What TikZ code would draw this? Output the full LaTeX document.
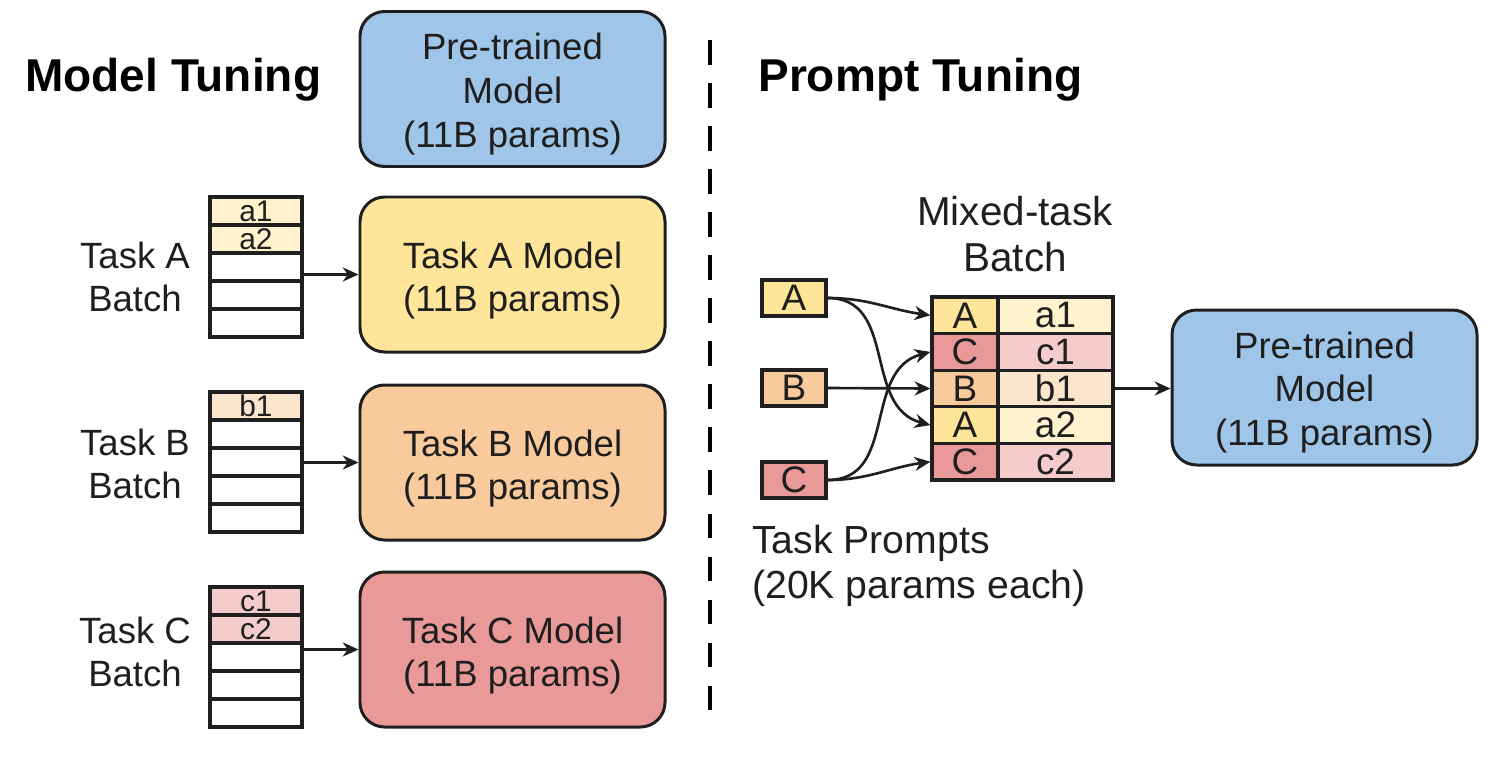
\documentclass[tikz,border=0pt]{standalone}
\usepackage{fontspec}
\setmainfont{Liberation Sans}
\usetikzlibrary{arrows.meta}
\newcommand\pxu{0.02cm}
\newcommand\fbig{\fontsize{20.8}{24.8}\selectfont}
\newcommand\fbigger{\fontsize{23}{26}\selectfont}
\newcommand\fprompt{\fontsize{22.3}{25.8}\selectfont}
\newcommand\ftitle{\bfseries\fontsize{26.2}{30}\selectfont}
\newcommand\fcell{\fontsize{17}{18}\selectfont}
\newcommand\fmix{\fontsize{21}{24}\selectfont}
\definecolor{linec}{HTML}{1F1F1F}
\definecolor{blueF}{HTML}{9FC5E8}
\definecolor{yellowF}{HTML}{FFE599}
\definecolor{orangeF}{HTML}{F9CB9C}
\definecolor{redF}{HTML}{EA9999}
\definecolor{ltyellow}{HTML}{FFF2CC}
\definecolor{ltorange}{HTML}{FCE5CD}
\definecolor{ltred}{HTML}{F4CCCC}
\begin{document}
\begin{tikzpicture}[x=0.02cm,y=-0.02cm,
  model/.style={draw=linec, line width=1.7pt, rounded corners=14pt,
    minimum width=305*\pxu, minimum height=155*\pxu, inner sep=0pt},
  mtext/.style={align=center, font=\fbig, inner sep=0pt, text=linec},
  cell/.style={draw=linec, line width=1.8pt, minimum width=92*\pxu,
    minimum height=28*\pxu, inner sep=0pt, font=\fcell, text=linec},
  mcl/.style={draw=linec, line width=1.8pt, minimum width=66*\pxu,
    minimum height=36.6*\pxu, inner sep=0pt, font=\fmix, text=linec},
  mcr/.style={draw=linec, line width=1.8pt, minimum width=115*\pxu,
    minimum height=36.6*\pxu, inner sep=0pt, font=\fmix, text=linec},
  prompt/.style={draw=linec, line width=1.8pt, minimum width=64*\pxu,
    minimum height=36*\pxu, inner sep=0pt, font=\fmix, text=linec},
  lbl/.style={align=center, font=\fbig, text=linec, inner sep=0pt},
  ttl/.style={font=\ftitle, text=black, inner sep=0pt, anchor=west},
  arr/.style={draw=linec, line width=1.5pt, -{Stealth[length=9pt,width=8pt]}},
]
\useasboundingbox[fill=white] (0,0) rectangle (1501,758);

% titles
\node[ttl] (tMT) at (25,80) {Model Tuning};
\node[ttl] (tPT) at (758,80) {Prompt Tuning};

% left models
\node[model, fill=blueF]   (mP) at (512.5,89)   {};
\node[model, fill=yellowF] (mA) at (512.5,274.5) {};
\node[model, fill=orangeF] (mB) at (512.5,462.5) {};
\node[model, fill=redF]    (mC) at (512.5,649.5) {};
\node[mtext] (mPt) at ([yshift=-5*\pxu]mP.center) {Pre-trained\\Model\\(11B params)};
\node[mtext] (mAt) at ([yshift=-6*\pxu]mA.center) {Task A Model\\(11B params)};
\node[mtext] (mBt) at ([yshift=-6*\pxu]mB.center) {Task B Model\\(11B params)};
\node[mtext] (mCt) at ([yshift=-6*\pxu]mC.center) {Task C Model\\(11B params)};

% task labels
\node[lbl] (lA) at (135,277) {Task A\\Batch};
\node[lbl] (lB) at (135,464) {Task B\\Batch};
\node[lbl] (lC) at (135,652) {Task C\\Batch};

% stack A
\node[cell, fill=ltyellow] (sa1) at (256,211) {a1};
\node[cell, fill=ltyellow] (sa2) at (256,239) {a2};
\node[cell] (sa3) at (256,267) {};
\node[cell] (sa4) at (256,295) {};
\node[cell] (sa5) at (256,323) {};
% stack B
\node[cell, fill=ltorange] (sb1) at (256,406) {b1};
\node[cell] (sb2) at (256,434) {};
\node[cell] (sb3) at (256,462) {};
\node[cell] (sb4) at (256,490) {};
\node[cell] (sb5) at (256,518) {};
% stack C
\node[cell, fill=ltred] (sc1) at (256,601) {c1};
\node[cell, fill=ltred] (sc2) at (256,629) {c2};
\node[cell] (sc3) at (256,657) {};
\node[cell] (sc4) at (256,685) {};
\node[cell] (sc5) at (256,713) {};

\draw[arr] (sa3.east |- mA.west) -- (mA.west);
\draw[arr] (sb3.east |- mB.west) -- (mB.west);
\draw[arr] (sc3.east |- mC.west) -- (mC.west);

% dashed divider
\coordinate (dTop) at (710,40);
\coordinate (dBot) at (710,722);
\draw[draw=black, line width=2.8pt, dash pattern=on 14pt off 10.5pt] (dTop) -- (dBot);

% right side
\node[lbl, font=\fbigger] (lMix) at (1015,234) {Mixed-task\\Batch};

\node[prompt, fill=yellowF] (pA) at (794,298) {A};
\node[prompt, fill=orangeF] (pB) at (794,388) {B};
\node[prompt, fill=redF]    (pC) at (794,480) {C};

\node[mcl, fill=yellowF] (m1l) at (965,315.3) {A};
\node[mcr, fill=ltyellow] (m1r) at (1055.5,315.3) {a1};
\node[mcl, fill=redF] (m2l) at (965,351.9) {C};
\node[mcr, fill=ltred] (m2r) at (1055.5,351.9) {c1};
\node[mcl, fill=orangeF] (m3l) at (965,388.5) {B};
\node[mcr, fill=ltorange] (m3r) at (1055.5,388.5) {b1};
\node[mcl, fill=yellowF] (m4l) at (965,425.1) {A};
\node[mcr, fill=ltyellow] (m4r) at (1055.5,425.1) {a2};
\node[mcl, fill=redF] (m5l) at (965,461.7) {C};
\node[mcr, fill=ltred] (m5r) at (1055.5,461.7) {c2};

\node[model, fill=blueF] (mP2) at (1324.5,387.5) {};
\node[mtext] (mP2t) at ([yshift=-5*\pxu]mP2.center) {Pre-trained\\Model\\(11B params)};

\draw[arr] (pA.east) to[out=0,in=172] (m1l.west);
\draw[arr] (pA.east) to[out=0,in=165,looseness=1.1] (m4l.west);
\draw[arr] (pB.east) -- (m3l.west);
\draw[arr] (pC.east) to[out=0,in=195,looseness=1.1] (m2l.west);
\draw[arr] (pC.east) to[out=0,in=188] (m5l.west);
\draw[arr] (m3r.east) -- (m3r.east -| mP2.west);

\node[lbl, font=\fprompt, align=left, anchor=west] (lTP) at (752,566) {Task Prompts\\(20K params each)};
\end{tikzpicture}
\end{document}
